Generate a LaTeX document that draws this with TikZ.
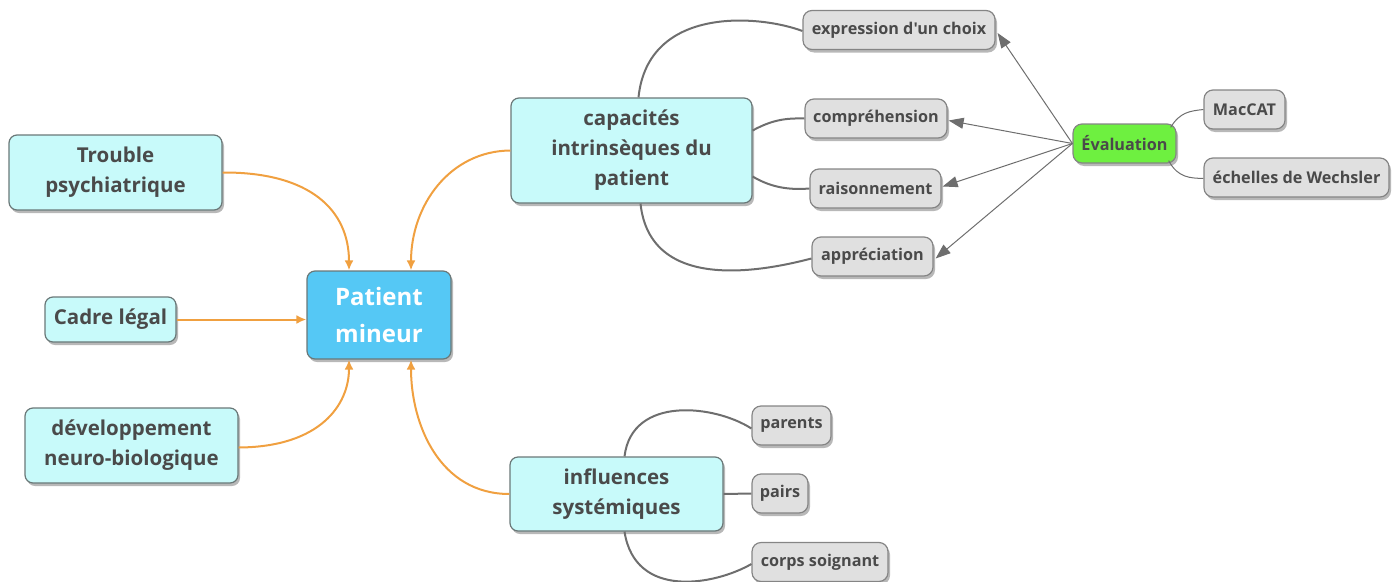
\documentclass[tikz,border=0pt]{standalone}
\usepackage{fontspec}
\newfontfamily\ofont{Open Sans}
\usetikzlibrary{shadows,arrows.meta}
\definecolor{txt}{HTML}{4A4A4A}
\definecolor{cyanfill}{HTML}{C8FAFA}
\definecolor{bigborder}{HTML}{6A7878}
\definecolor{greyfill}{HTML}{E0E0E0}
\definecolor{greyborder}{HTML}{858585}
\definecolor{patfill}{HTML}{55C8F5}
\definecolor{evalfill}{HTML}{6EF040}
\definecolor{orangeline}{HTML}{F0A040}
\definecolor{greyline}{HTML}{6E6E6E}
\tikzset{
  shad/.style={drop shadow={shadow xshift=2pt,shadow yshift=-3pt,fill=black,opacity=0.28}},
  bignode/.style={shad,draw=bigborder,line width=1.2pt,fill=cyanfill,rounded corners=8pt,
     text=txt,align=center,inner sep=0pt,font=\ofont\bfseries\fontsize{20.5}{30}\selectfont},
  smallnode/.style={shad,draw=greyborder,line width=1.2pt,fill=greyfill,rounded corners=9pt,
     text=txt,align=center,inner sep=0pt,font=\ofont\bfseries\fontsize{16.2}{19}\selectfont,minimum height=39pt},
  orangearrow/.style={draw=orangeline,line width=2pt,-{Latex[length=10pt,width=9pt]}},
  greycon/.style={draw=greyline,line width=2pt},
  evalarrow/.style={draw=greyline,line width=1pt,-{Triangle[length=15pt,width=11pt]}}
}
\begin{document}
\begin{tikzpicture}[x=1pt,y=-1pt]
\useasboundingbox (0,0) rectangle (1399,581);
% main nodes
\node[bignode,minimum width=213pt,minimum height=75pt] (trouble) at (115.5,172.5) {Trouble\\psychiatrique};
\node[bignode,minimum width=131pt,minimum height=45pt] (cadre) at (110.5,319.5) {Cadre légal};
\node[bignode,minimum width=213pt,minimum height=75pt] (dev) at (131.5,445.5) {développement\\neuro-biologique};
\node[shad,draw=bigborder,line width=1.2pt,fill=patfill,rounded corners=8pt,text=white,align=center,inner sep=0pt,
  font=\ofont\bfseries\fontsize{24}{37}\selectfont,minimum width=144pt,minimum height=88pt] (patient) at (379,315) {Patient\\mineur};
\node[bignode,minimum width=241pt,minimum height=105pt] (cap) at (631.5,150.5) {capacités\\intrinsèques du\\patient};
\node[bignode,minimum width=213pt,minimum height=74pt] (infl) at (616.5,494) {influences\\systémiques};
% small nodes
\node[smallnode,minimum width=192pt] (expr) at (899,30) {expression d'un choix};
\node[smallnode,minimum width=142pt] (comp) at (876,118.5) {compréhension};
\node[smallnode,minimum width=131pt] (rais) at (875.5,188.5) {raisonnement};
\node[smallnode,minimum width=121pt] (appr) at (872.5,256.5) {appréciation};
\node[shad,draw=greyborder,line width=1.2pt,fill=evalfill,rounded corners=9pt,text=txt,align=center,inner sep=0pt,
  font=\ofont\bfseries\fontsize{16.2}{19}\selectfont,minimum height=39pt,minimum width=103pt] (eval) at (1124.5,143.5) {Évaluation};
\node[smallnode,minimum width=81pt] (maccat) at (1244.5,109.5) {MacCAT};
\node[smallnode,minimum width=185pt] (wech) at (1296.5,177.5) {échelles de Wechsler};
\node[smallnode,minimum width=79pt] (parents) at (791.5,425.5) {parents};
\node[smallnode,minimum width=56pt] (pairs) at (780,493.5) {pairs};
\node[smallnode,minimum width=136pt] (corps) at (820,562) {corps soignant};
% orange connectors
\draw[orangearrow] (trouble.east) .. controls (310,172) and (349,210) .. ([xshift=-30pt]patient.north);
\draw[orangearrow] (cadre.east) -- (cadre.east -| patient.west);
\draw[orangearrow] ([yshift=-2pt]dev.east) .. controls (320,447) and (349,405) .. ([xshift=-30pt]patient.south);
\draw[orangearrow] (cap.west) .. controls (450,151) and (411,205) .. ([xshift=32pt]patient.north);
\draw[orangearrow] (infl.west) .. controls (440,494) and (411,425) .. ([xshift=32pt]patient.south);
% grey connectors from capacités
\draw[greycon] ([xshift=7pt]cap.north) .. controls (648,5) and (760,15) .. ([yshift=-1pt]expr.west);
\draw[greycon] ([yshift=20pt]cap.east) .. controls (772,120) and (785,118) .. (comp.west);
\draw[greycon] ([yshift=-26pt]cap.east) .. controls (772,188) and (790,190) .. (rais.west);
\draw[greycon] ([xshift=9pt]cap.south) .. controls (650,292) and (760,272) .. ([yshift=-2pt]appr.west);
% Évaluation arrows
\draw[evalarrow] (eval.west) -- ([xshift=2pt,yshift=-3pt]expr.east);
\draw[evalarrow] (eval.west) -- ([xshift=1pt,yshift=-2pt]comp.east);
\draw[evalarrow] (eval.west) -- ([xshift=1pt,yshift=2pt]rais.east);
\draw[evalarrow] (eval.west) -- ([xshift=2pt,yshift=-2pt]appr.east);
% Évaluation children
\draw[greyline,line width=1pt] ([xshift=-6pt,yshift=-4pt]eval.north east) .. controls (1180,112) and (1190,111) .. (maccat.west);
\draw[greyline,line width=1pt] ([xshift=-8pt,yshift=3pt]eval.south east) .. controls (1178,178) and (1190,178) .. ([yshift=-1pt]wech.west);
% influences children
\draw[greycon] ([xshift=8pt]infl.north) .. controls (632,395) and (715,405) .. ([yshift=-3pt]parents.west);
\draw[greycon] (infl.east) -- (pairs.west);
\draw[greycon] ([xshift=8pt]infl.south) .. controls (635,600) and (715,585) .. ([yshift=-2pt]corps.west);
\end{tikzpicture}
\end{document}
